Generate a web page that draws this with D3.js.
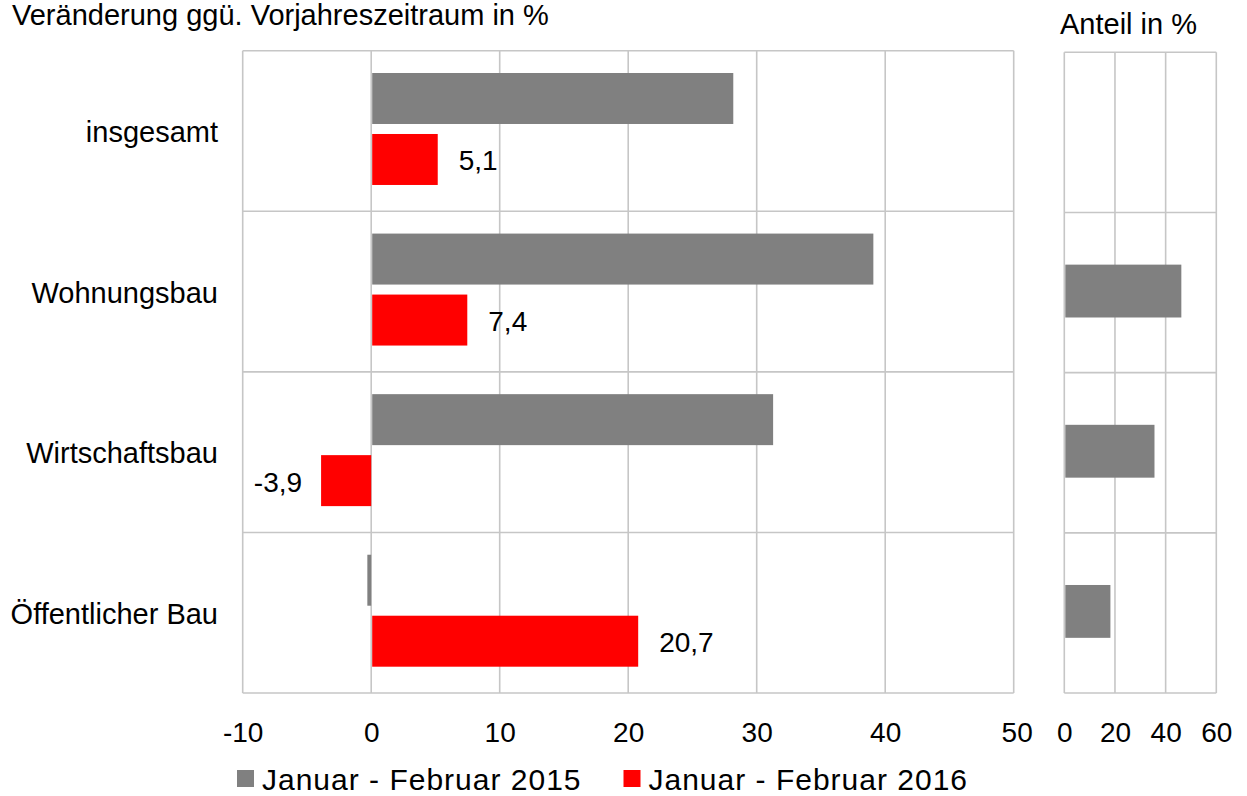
<!DOCTYPE html>
<html>
<head>
<meta charset="utf-8">
<script src="https://cdn.jsdelivr.net/npm/d3@7"></script>
<style>
  html, body { margin: 0; padding: 0; background: #fff; }
  svg { display: block; font-family: "Liberation Sans", Arial, sans-serif; }
  text { fill: #000; }
</style>
</head>
<body>
<svg id="chart" width="1247" height="796"></svg>
<script>
// ---- data ----
const categories = ["insgesamt", "Wohnungsbau", "Wirtschaftsbau", "Öffentlicher Bau"];
const seriesNames = ["Januar - Februar 2015", "Januar - Februar 2016"];
const change2015 = [28.1, 39.0, 31.2, -0.3];
const change2016 = [5.1, 7.4, -3.9, 20.7];
const shareValues = [null, 46.2, 35.6, 18.2];
const mainTicks = [-10, 0, 10, 20, 30, 40, 50];
const shareTicks = [0, 20, 40, 60];
const titleMain = "Veränderung ggü. Vorjahreszeitraum in %";
const titleShare = "Anteil in %";

const colors = ["#808080", "#ff0000"];
const gridColor = "#c6c6c6";
const labelFont = 29;
const tickFont = 28;

const svg = d3.select("#chart");

const deLocale = d3.formatLocale({ decimal: ",", thousands: ".", grouping: [3], currency: ["", " €"], minus: "-" });
const fmt = deLocale.format(".1f");

// ---- main panel scales ----
const x = d3.scaleLinear().domain([-10, 50]).range([242.7, 1013.7]);
const y = d3.scaleBand().domain(categories).range([50.7, 693]).padding(0);
const ySeries = d3.scaleBand().domain(seriesNames).range([-2, y.bandwidth() - 2])
  .paddingInner(0.164).paddingOuter(0.3985);

// ---- share panel scales ----
const xs = d3.scaleLinear().domain([0, 60]).range([1064.3, 1216.3]);
const ys = d3.scaleBand().domain(categories).range([50.8, 691.5])
  .paddingInner(0.67).paddingOuter(0.335);
const ysRow = d3.scaleBand().domain(categories).range([52.3, 693]).padding(0);

// ---- grids ----
const gMain = svg.append("g");
gMain.selectAll("line.v").data(mainTicks).join("line")
  .attr("x1", d => x(d)).attr("x2", d => x(d))
  .attr("y1", y.range()[0]).attr("y2", y.range()[1])
  .attr("stroke", gridColor).attr("stroke-width", 1.6);
const rowBounds = categories.map(c => y(c)).concat([y.range()[1]]);
gMain.selectAll("line.h").data(rowBounds).join("line")
  .attr("x1", x(-10)).attr("x2", x(50))
  .attr("y1", d => d).attr("y2", d => d)
  .attr("stroke", gridColor).attr("stroke-width", 1.6);

const gShare = svg.append("g");
gShare.selectAll("line.v").data(shareTicks).join("line")
  .attr("x1", d => xs(d)).attr("x2", d => xs(d))
  .attr("y1", ysRow.range()[0]).attr("y2", ysRow.range()[1])
  .attr("stroke", gridColor).attr("stroke-width", 1.6);
const rowBoundsS = categories.map(c => ysRow(c)).concat([ysRow.range()[1]]);
gShare.selectAll("line.h").data(rowBoundsS).join("line")
  .attr("x1", xs(0)).attr("x2", xs(60))
  .attr("y1", d => d).attr("y2", d => d)
  .attr("stroke", gridColor).attr("stroke-width", 1.6);

// ---- bars main ----
const rows = categories.map((c, i) => ({ cat: c, vals: [change2015[i], change2016[i]] }));
const barG = svg.append("g");
rows.forEach(r => {
  r.vals.forEach((v, si) => {
    const s = seriesNames[si];
    const x0 = x(Math.min(0, v)) + (v >= 0 ? 1 : 0);
    const x1 = x(Math.max(0, v)) + (v >= 0 ? 1 : 0);
    barG.append("rect")
      .attr("x", x0).attr("width", Math.max(0, x1 - x0))
      .attr("y", y(r.cat) + ySeries(s)).attr("height", ySeries.bandwidth())
      .attr("fill", colors[si]);
  });
});

// value labels for 2016 series
svg.append("g").selectAll("text").data(categories).join("text")
  .attr("x", (d, i) => change2016[i] >= 0 ? x(change2016[i]) + 22 : x(change2016[i]) - 19)
  .attr("y", d => y(d) + ySeries(seriesNames[1]) + ySeries.bandwidth() / 2 + 11)
  .attr("text-anchor", (d, i) => change2016[i] >= 0 ? "start" : "end")
  .attr("font-size", tickFont)
  .text((d, i) => fmt(change2016[i]));

// ---- bars share ----
svg.append("g").selectAll("rect").data(categories.filter((c, i) => shareValues[i] != null)).join("rect")
  .attr("x", xs(0) + 1)
  .attr("width", d => xs(shareValues[categories.indexOf(d)]) - xs(0) - 1)
  .attr("y", d => ys(d)).attr("height", ys.bandwidth())
  .attr("fill", colors[0]);

// ---- category labels ----
svg.append("g").selectAll("text").data(categories).join("text")
  .attr("x", 218)
  .attr("y", d => y(d) + y.bandwidth() / 2 + 11)
  .attr("text-anchor", "end")
  .attr("font-size", labelFont)
  .text(d => d);

// ---- axes tick labels ----
const axisMain = d3.axisBottom(x).tickValues(mainTicks).tickSize(0).tickPadding(0)
  .tickFormat(d => deLocale.format("d")(d));
const axM = svg.append("g").attr("transform", "translate(0,693)").call(axisMain);
axM.select(".domain").remove();
axM.selectAll("text").attr("font-size", tickFont).attr("font-family", "Liberation Sans, Arial, sans-serif")
  .attr("fill", "#000").attr("dy", null).attr("y", 48.7);
axM.selectAll(".tick").filter(d => d === 50).select("text").attr("x", 3);

const axisShare = d3.axisBottom(xs).tickValues(shareTicks).tickSize(0).tickPadding(0);
const axS = svg.append("g").attr("transform", "translate(0,693)").call(axisShare);
axS.select(".domain").remove();
axS.selectAll("text").attr("font-size", tickFont).attr("font-family", "Liberation Sans, Arial, sans-serif")
  .attr("fill", "#000").attr("dy", null).attr("y", 48.7);

// ---- titles ----
svg.append("text").attr("x", 12).attr("y", 25).attr("font-size", labelFont).text(titleMain);
svg.append("text").attr("x", 1060).attr("y", 34).attr("font-size", labelFont).text(titleShare);

// ---- legend ----
const legendX = [237, 623.5];
const lg = svg.append("g");
seriesNames.forEach((s, i) => {
  lg.append("rect").attr("x", legendX[i]).attr("y", 770).attr("width", 17).attr("height", 17).attr("fill", colors[i]);
  lg.append("text").attr("x", legendX[i] + 25).attr("y", 790).attr("font-size", 30)
    .attr("letter-spacing", 1).text(s);
});
</script>
</body>
</html>
